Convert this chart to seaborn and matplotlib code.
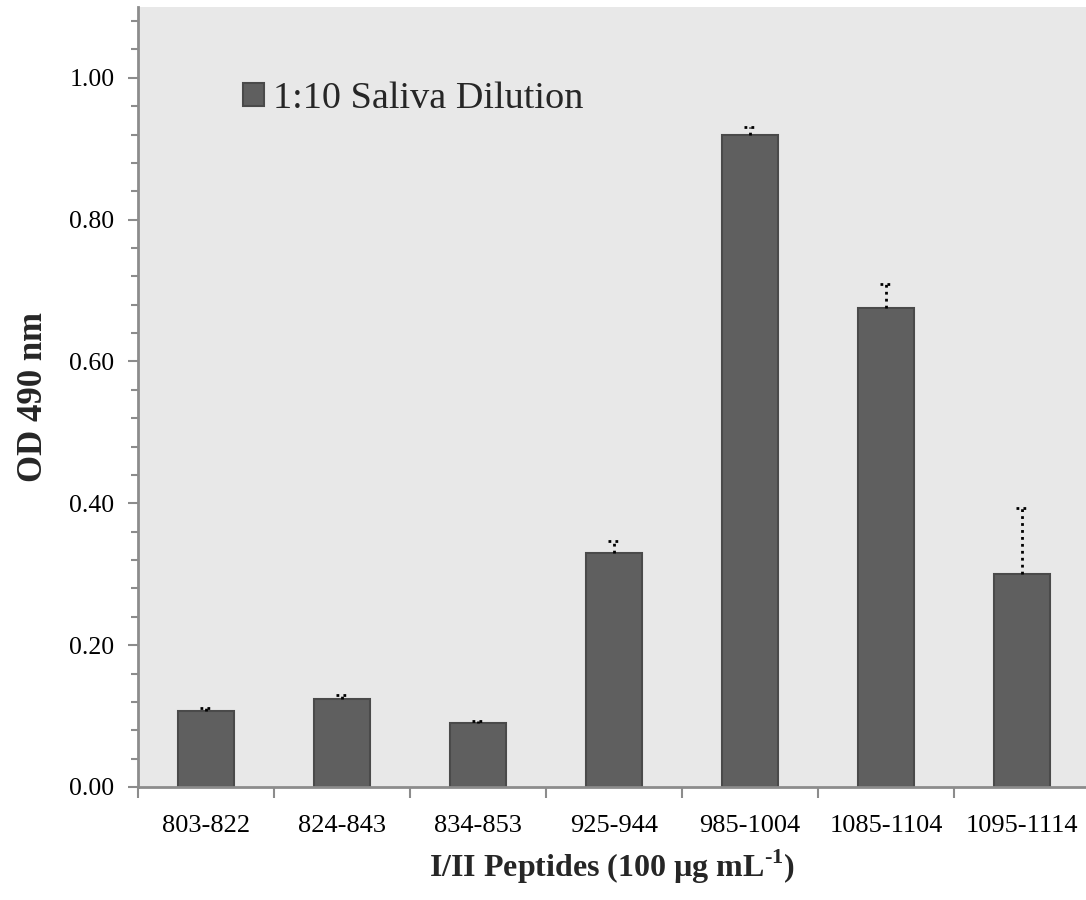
import matplotlib
matplotlib.use("Agg")
import matplotlib.pyplot as plt
from matplotlib.ticker import MultipleLocator, FixedLocator, NullFormatter
import numpy as np
import pandas as pd
import seaborn as sns

# Peptide panel and mean OD readings with upper standard deviations
peptides = ["803-822", "824-843", "834-853", "925-944", "985-1004", "1085-1104", "1095-1114"]
od_490 = [0.107, 0.124, 0.090, 0.330, 0.920, 0.675, 0.301]
od_sd = [0.004, 0.006, 0.003, 0.017, 0.010, 0.034, 0.093]
series_label = "1:10 Saliva Dilution"

sns.set_theme(style="white")
plt.rcParams["font.family"] = ["Liberation Serif", "DejaVu Serif"]
plt.rcParams["mathtext.fontset"] = "custom"
plt.rcParams["mathtext.rm"] = "Liberation Serif:bold"
plt.rcParams["mathtext.bf"] = "Liberation Serif:bold"

df = pd.DataFrame({"peptide": peptides, "od": od_490, "sd": od_sd})

fig = plt.figure(figsize=(10.86, 9.0), dpi=100)
ax = fig.add_axes([0.127, 0.1256, 0.873, 0.8667])
ax.set_facecolor("#e8e8e8")

sns.barplot(data=df, x="peptide", y="od", color="#5f5f5f", width=0.41,
            edgecolor="#4a4a4a", linewidth=1.5, saturation=1, errorbar=None,
            label=series_label, ax=ax)

# Upper-only dotted error bars with dotted caps
xpos = np.arange(len(peptides))
tops = df["od"] + df["sd"]
ax.vlines(xpos, df["od"], tops, colors="black", linestyles=(0, (1, 1.5)), linewidth=2, zorder=3)
ax.hlines(tops, xpos - 0.045, xpos + 0.045, colors="black", linestyles=(0, (1, 1.5)), linewidth=2, zorder=3)

ax.set_xlim(-0.5, 6.47)
ax.set_ylim(0, 1.10)

# Y axis: labelled majors every 0.20, minor ticks every 0.04
ax.yaxis.set_major_locator(FixedLocator([0, 0.2, 0.4, 0.6, 0.8, 1.0]))
ax.yaxis.set_minor_locator(MultipleLocator(0.04))
ax.set_yticklabels([f"{v:.2f}" for v in [0, 0.2, 0.4, 0.6, 0.8, 1.0]])

# X axis: labels at bar centres, tick marks on category boundaries
ax.set_xticks(xpos)
ax.set_xticklabels(peptides)
ax.xaxis.set_minor_locator(FixedLocator(np.arange(-0.5, 6.0, 1.0)))
ax.xaxis.set_minor_formatter(NullFormatter())

ax.tick_params(axis="both", which="both", direction="out", colors="#8c8c8c",
               labelcolor="black", left=True, bottom=True)
ax.tick_params(axis="y", which="major", length=7, width=1.5, pad=10, labelsize=18.5)
ax.tick_params(axis="y", which="minor", length=5, width=1.5)
ax.tick_params(axis="x", which="major", length=0, pad=20, labelsize=19)
ax.tick_params(axis="x", which="minor", length=8, width=1.5)

for side in ["top", "right"]:
    ax.spines[side].set_visible(False)
for side in ["left", "bottom"]:
    ax.spines[side].set_color("#8c8c8c")
    ax.spines[side].set_linewidth(2)

ax.set_ylabel("OD 490 nm", fontsize=25, fontweight="bold", labelpad=14)
ax.set_xlabel(r"I/II Peptides (100 µg mL$^{\text{-}1}$)", fontsize=23,
              fontweight="bold", labelpad=8)

ax.legend(loc="center left", bbox_to_anchor=(0.111, 0.882), frameon=False,
          fontsize=27.5, handlelength=0.55, handleheight=0.55, handletextpad=0.22,
          borderpad=0, borderaxespad=0)

fig.savefig("out.png", dpi=100, facecolor="white")
